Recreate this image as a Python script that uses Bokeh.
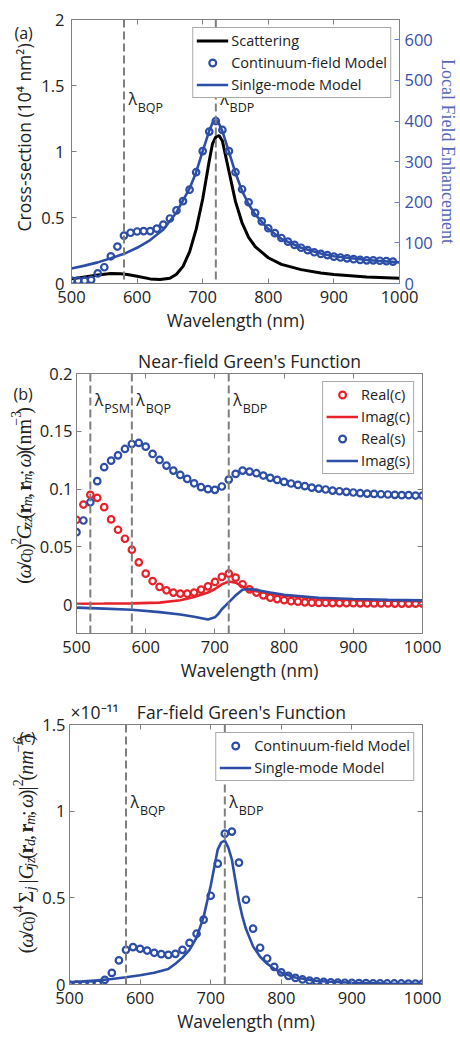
import math
from bokeh.plotting import figure
from bokeh.models import (Range1d, LinearAxis, FixedTicker, Span, Label, Legend,
                          LegendItem, CustomJSTickFormatter)
from bokeh.layouts import column, row
from bokeh.embed import file_html
from bokeh.resources import INLINE

# ------------------------------------------------------------------ data
wl_ticks = [500, 600, 700, 800, 900, 1000]
lam_psm = 520
lam_bqp = 580
lam_bdp = 720

# (a) scattering cross-section (1e4 nm^2) and local field enhancement
wl_a_scat = [500, 520, 540, 560, 575, 585, 600, 620, 635, 650, 660, 670, 680, 690, 700, 710,
             715, 720, 725, 730, 740, 750, 760, 770, 780, 800, 820, 850, 880, 900, 950, 1000]
scattering = [0.035, 0.05, 0.065, 0.075, 0.073, 0.068, 0.055, 0.035, 0.03, 0.04, 0.07, 0.13,
              0.24, 0.41, 0.64, 0.93, 1.06, 1.11, 1.12, 1.08, 0.85, 0.62, 0.46, 0.35, 0.28,
              0.195, 0.145, 0.105, 0.08, 0.068, 0.05, 0.04]
wl_a_cont = list(range(500, 1000, 10))
lfe_cont = [7, 7, 7, 9, 25, 40, 67, 91, 118, 125, 128, 129, 129, 135, 145, 160, 180, 203, 231, 274,
            326, 374, 400, 378, 326, 274, 232, 200, 174, 153, 136, 124, 112, 103, 95, 88, 82, 77,
            73, 70, 66, 64, 62, 60, 58, 57, 57, 56, 55, 54]
wl_a_single = [500, 520, 540, 560, 580, 600, 620, 640, 660, 680, 690, 700, 710, 715, 720, 725, 730,
               740, 750, 760, 770, 780, 800, 820, 850, 880, 900, 950, 1000]
lfe_single = [37, 44, 52, 62, 73, 88, 107, 133, 175, 234, 274, 326, 376, 395, 402, 393, 375, 324,
              272, 228, 195, 170, 134, 110, 88, 74, 67, 58, 52]

# (b) near-field Green's function
wl_b = list(range(500, 1001, 10))
real_c = [0.0734, 0.0866, 0.095, 0.0924, 0.0843, 0.0737, 0.0648, 0.057, 0.0475, 0.0366,
          0.0268, 0.0204, 0.0153, 0.0124, 0.0104, 0.0095, 0.0095, 0.0104, 0.013, 0.0158,
          0.0196, 0.024, 0.0268, 0.0233, 0.0176, 0.0132, 0.0104, 0.008, 0.006, 0.0048,
          0.0038, 0.003, 0.0025, 0.002, 0.0017, 0.0015, 0.0014, 0.0013, 0.0013, 0.0012,
          0.0012, 0.0011, 0.0011, 0.001, 0.001, 0.001, 0.0009, 0.0009, 0.0009, 0.0009, 0.0009]
real_s = [0.0627, 0.0728, 0.0886, 0.1068, 0.1189, 0.1246, 0.1292, 0.1347, 0.139, 0.1399,
          0.1367, 0.1304, 0.1252, 0.1203, 0.116, 0.1122, 0.1088, 0.105, 0.1016, 0.0999,
          0.0993, 0.1022, 0.1082, 0.1131, 0.116, 0.1151, 0.1137, 0.1117, 0.1097, 0.1079,
          0.1062, 0.1048, 0.1036, 0.1025, 0.1013, 0.1004, 0.0996, 0.0987, 0.0981, 0.0976,
          0.097, 0.0964, 0.0961, 0.0958, 0.0955, 0.0953, 0.095, 0.0947, 0.0947, 0.0944, 0.0944]
wl_b_line = [500, 540, 580, 620, 650, 670, 690, 700, 705, 710, 720, 730, 740, 750, 760, 780, 800,
             850, 900, 950, 1000]
imag_c = [0.0008, 0.0009, 0.0011, 0.0017, 0.0038, 0.0065, 0.0105, 0.0135, 0.0155, 0.0175, 0.02,
          0.019, 0.0155, 0.0125, 0.0115, 0.0095, 0.0077, 0.0052, 0.004, 0.0033, 0.0029]
imag_s = [-0.0026, -0.0035, -0.0045, -0.0065, -0.0085, -0.0105, -0.0128, -0.011, -0.008, -0.004,
          0.002, 0.008, 0.0128, 0.0135, 0.0127, 0.0105, 0.0085, 0.006, 0.0048, 0.0041, 0.0037]

# (c) far-field Green's function (units of 1e-11 nm^-6)
wl_c = list(range(500, 1001, 10))
far_cont = [0.0, 0.0, 0.0, 0.0, 0.004, 0.027, 0.067, 0.139, 0.2, 0.216,
            0.206, 0.196, 0.183, 0.175, 0.171, 0.177, 0.2, 0.24, 0.293, 0.374,
            0.512, 0.697, 0.87, 0.882, 0.703, 0.489, 0.322, 0.212, 0.15, 0.102,
            0.07, 0.05, 0.038, 0.029, 0.022, 0.018, 0.015, 0.013, 0.011, 0.01,
            0.009, 0.008, 0.008, 0.007, 0.007, 0.006, 0.006, 0.006, 0.005, 0.005, 0.005]
wl_c_line = [500, 520, 540, 560, 580, 600, 620, 640, 650, 660, 670, 680, 690, 700, 710, 715, 720,
             725, 730, 735, 740, 745, 750, 760, 770, 780, 790, 800, 820, 850, 900, 950, 1000]
far_single = [0.013, 0.018, 0.024, 0.032, 0.042, 0.053, 0.068, 0.09, 0.12, 0.155,
              0.2, 0.27, 0.39, 0.57, 0.78, 0.82, 0.83, 0.79, 0.72, 0.6,
              0.48, 0.39, 0.32, 0.22, 0.16, 0.12, 0.09, 0.068, 0.04, 0.02,
              0.01, 0.006, 0.004]

# ------------------------------------------------------------------ style
W = 460
BLUE = "#2d4ea6"
RED = "#e8222a"
DASH = "#7f7f7f"
AXC = "#808080"
TXT = "#222222"
RAX = "#7080c8"
RTXT = "#3a4fa8"
RLAB = "#5567bb"
SANS = "Open Sans"
SERIF = "Liberation Serif"


def fmt():
    return CustomJSTickFormatter(code="return String(Math.round(tick*10000)/10000);")


class Geo:
    """Frame geometry of a panel in page pixels, used to anchor in-frame labels."""
    def __init__(self, fig_top, height, strip, l, r, t, b, xr, yr):
        self.fig_top, self.height, self.strip = fig_top, height, strip
        self.l, self.r, self.t, self.b = l, r, t, b
        self.xr, self.yr = xr, yr

    def x_of(self, px):
        return self.xr[0] + (px - self.l) / (self.r - self.l) * (self.xr[1] - self.xr[0])

    def y_of(self, py):
        return self.yr[0] + (self.b - py) / (self.b - self.t) * (self.yr[1] - self.yr[0])

    def px_of(self, x):
        return self.l + (x - self.xr[0]) / (self.xr[1] - self.xr[0]) * (self.r - self.l)


def style_axis(ax, ticks, labels=True, color=AXC, lcolor=TXT, standoff=7):
    ax.ticker = FixedTicker(ticks=ticks)
    ax.major_tick_in = 5
    ax.major_tick_out = 0
    ax.minor_tick_in = 0
    ax.minor_tick_out = 0
    ax.axis_line_color = color
    ax.major_tick_line_color = color
    ax.major_label_text_font = SANS
    if labels:
        ax.major_label_text_color = lcolor
        ax.major_label_text_font_size = "16.5px"
        ax.major_label_standoff = standoff
    else:
        ax.major_label_text_color = None
        ax.major_label_text_font_size = "1px"
        ax.major_label_standoff = 0


def make_main(g, yticks, ystandoff, right_mirror=True):
    width = W - g.strip
    left = g.l - g.strip
    right = W - g.r
    top = g.t - g.fig_top
    bottom = g.height - top - (g.b - g.t)
    p = figure(width=width, height=g.height, x_range=Range1d(*g.xr), y_range=Range1d(*g.yr),
               output_backend="svg", toolbar_location=None,
               min_border_left=left, min_border_right=right,
               min_border_top=top, min_border_bottom=bottom)
    p.grid.visible = False
    p.outline_line_color = AXC
    style_axis(p.xaxis[0], wl_ticks)
    p.xaxis[0].axis_label = "Wavelength (nm)"
    p.xaxis[0].axis_label_text_font = SANS
    p.xaxis[0].axis_label_text_font_size = "17.5px"
    p.xaxis[0].axis_label_text_font_style = "normal"
    p.xaxis[0].axis_label_text_color = TXT
    p.xaxis[0].axis_label_standoff = 2
    style_axis(p.yaxis[0], yticks, standoff=ystandoff)
    p.yaxis[0].formatter = fmt()
    top_ax = LinearAxis()
    style_axis(top_ax, wl_ticks, labels=False)
    p.add_layout(top_ax, "above")
    if right_mirror:
        r_ax = LinearAxis()
        style_axis(r_ax, yticks, labels=False)
        p.add_layout(r_ax, "right")
    return p


def make_strip(g):
    s = figure(width=g.strip, height=g.height, x_range=Range1d(0, g.strip),
               y_range=Range1d(g.height, 0), output_backend="svg", toolbar_location=None,
               x_axis_location=None, y_axis_location=None,
               min_border_left=0, min_border_right=0, min_border_top=0, min_border_bottom=0)
    s.grid.visible = False
    s.outline_line_color = None
    return s


def slabel(s, g, px, py, text, size, font=SANS, color=TXT, align="left",
           baseline="middle", angle=0.0, style="normal"):
    s.add_layout(Label(x=px, y=py - g.fig_top, text=text, text_font=font,
                       text_font_size=f"{size}px", text_color=color, text_align=align,
                       text_baseline=baseline, angle=angle, text_font_style=style))


def flabel(p, g, px, py, text, size):
    p.add_layout(Label(x=g.x_of(px), y=g.y_of(py), text=text, text_font=SANS,
                       text_font_size=f"{size}px", text_color=TXT, text_align="left",
                       text_baseline="middle"))


def lambda_label(p, g, lam, py, sub):
    x0 = g.px_of(lam)
    flabel(p, g, x0 + 4.5, py, "λ", 16)
    flabel(p, g, x0 + 14, py + 9, sub, 12.5)


EM = {'(': .333, ')': .333, 'ω': .69, '/': .278, 'c': .444, '0': .5, '2': .5, '3': .5,
      '4': .5, '6': .5, 'G': .722, 'z': .389, 'r': .444, 'm': .75, ',': .25, ';': .278,
      'n': .5, '−': .564, 'Σ': .75, 'j': .278, 'd': .5, '|': .25, ' ': .2}
N, SUB, SUP = (1.0, 0.0), (0.7, 0.2), (0.7, -0.38)


def tex_ylabel(s, g, base_px, start_py, pieces, S, stretch, color=TXT):
    y = start_py - g.fig_top
    for piece in pieces:
        txt, kind = piece[0], piece[1]
        style = piece[2] if len(piece) > 2 else "normal"
        scale, shift = kind
        size = S * scale
        if txt.strip():
            s.add_layout(Label(x=base_px + shift * S, y=y, text=txt,
                               angle=math.pi / 2, text_align="left", text_baseline="alphabetic",
                               text_font=SERIF, text_font_style=style,
                               text_font_size=f"{size:.1f}px", text_color=color))
        y -= sum(EM.get(c, .5) for c in txt) * size * stretch


def vlines(p, lams):
    for lam in lams:
        p.add_layout(Span(location=lam, dimension="height", line_color=DASH,
                          line_dash="8 4", line_width=2))


def legend(p, items):
    leg = Legend(items=items, location="top_right", margin=8, padding=3, spacing=3,
                 glyph_width=32, glyph_height=17, label_height=17, label_standoff=3,
                 label_text_font=SANS, label_text_font_size="14.5px", label_text_color=TXT,
                 border_line_color="#555555", border_line_width=1,
                 background_fill_color="white", background_fill_alpha=1)
    p.add_layout(leg)


def set_title(p, text, align, offset):
    p.title.text = text
    p.title.align = align
    p.title.offset = offset
    p.title.standoff = 1
    p.title.text_font = SANS
    p.title.text_font_size = "17.5px"
    p.title.text_font_style = "normal"
    p.title.text_color = TXT


# ------------------------------------------------------------------ panel (a)
ga = Geo(0, 338, 38, 70, 404, 19, 283, (500, 1000), (0, 2))
pa = make_main(ga, [0, 0.5, 1, 1.5, 2], 7, right_mirror=False)
pa.extra_y_ranges = {"lfe": Range1d(0, 650)}
rax = LinearAxis(y_range_name="lfe")
style_axis(rax, [0, 100, 200, 300, 400, 500, 600], color=RAX, lcolor=RTXT, standoff=5)
rax.axis_label = "Local Field Enhancement"
rax.axis_label_text_font = SERIF
rax.axis_label_text_font_size = "18px"
rax.axis_label_text_font_style = "normal"
rax.axis_label_text_color = RLAB
rax.axis_label_standoff = 2
pa.add_layout(rax, "right")

ra1 = pa.line(wl_a_scat, scattering, line_color="black", line_width=3)
ra3 = pa.line(wl_a_single, lfe_single, line_color=BLUE, line_width=2.6, y_range_name="lfe")
ra2 = pa.scatter(wl_a_cont, lfe_cont, marker="circle", size=6.5, line_width=2.2,
                 line_color=BLUE, fill_color=None, y_range_name="lfe")
vlines(pa, [lam_bqp, lam_bdp])
legend(pa, [LegendItem(label="Scattering", renderers=[ra1]),
            LegendItem(label="Continuum-field Model", renderers=[ra2]),
            LegendItem(label="Sinlge-mode Model", renderers=[ra3])])
lambda_label(pa, ga, lam_bqp, 98, "BQP")
lambda_label(pa, ga, lam_bdp, 98, "BDP")
sa = make_strip(ga)
slabel(sa, ga, 14, 17, "(a)", 16)
slabel(sa, ga, 23.5, 151, "Cross-section (10⁴ nm²)", 17.5, align="center", angle=math.pi / 2)

# ------------------------------------------------------------------ panel (b)
gb = Geo(338, 350, 36, 74, 422, 373, 633, (500, 1000), (-0.025, 0.2))
pb = make_main(gb, [0, 0.05, 0.1, 0.15, 0.2], 4)
rb1 = pb.scatter(wl_b, real_c, marker="circle", size=6.5, line_width=2.2,
                 line_color=RED, fill_color=None)
rb2 = pb.line(wl_b_line, imag_c, line_color=RED, line_width=2.6)
rb3 = pb.scatter(wl_b, real_s, marker="circle", size=6.5, line_width=2.2,
                 line_color=BLUE, fill_color=None)
rb4 = pb.line(wl_b_line, imag_s, line_color=BLUE, line_width=2.6)
vlines(pb, [lam_psm, lam_bqp, lam_bdp])
legend(pb, [LegendItem(label="Real(c)", renderers=[rb1]),
            LegendItem(label="Imag(c)", renderers=[rb2]),
            LegendItem(label="Real(s)", renderers=[rb3]),
            LegendItem(label="Imag(s)", renderers=[rb4])])
lambda_label(pb, gb, lam_psm, 399, "PSM")
lambda_label(pb, gb, lam_bqp, 399, "BQP")
lambda_label(pb, gb, lam_bdp, 399, "BDP")
set_title(pb, "Near-field Green's Function", "center", 0)
sb = make_strip(gb)
slabel(sb, gb, 13, 366, "(b)", 16)
tex_ylabel(sb, gb, 23, 621, [
    ("(", N), ("ω", N, "italic"), ("/", N), ("c", N, "italic"), ("0", SUB), (")", N),
    ("2", SUP), ("G", N, "italic"), ("zz", SUB, "italic"), ("(", N), ("r", N, "bold"),
    ("m", SUB, "italic"), (",", N), (" ", N), ("r", N, "bold"), ("m", SUB, "italic"),
    (";", N), (" ", N), ("ω", N, "italic"), (")", N), ("(nm", N), ("−3", SUP), (")", N)],
    20, 1.08)

# ------------------------------------------------------------------ panel (c)
gc = Geo(688, 350, 39, 67, 422, 724, 984, (500, 1000), (0, 1.5))
pc = make_main(gc, [0, 0.5, 1, 1.5], 4)
rc1 = pc.scatter(wl_c, far_cont, marker="circle", size=6.5, line_width=2.2,
                 line_color=BLUE, fill_color=None)
rc2 = pc.line(wl_c_line, far_single, line_color=BLUE, line_width=2.6)
vlines(pc, [lam_bqp, lam_bdp])
legend(pc, [LegendItem(label="Continuum-field Model", renderers=[rc1]),
            LegendItem(label="Single-mode Model", renderers=[rc2])])
lambda_label(pc, gc, lam_bqp, 801, "BQP")
lambda_label(pc, gc, lam_bdp, 801, "BDP")
set_title(pc, "×10⁻¹¹" + "\u00a0" * 4 + "Far-field Green's Function", "left", 1)
sc = make_strip(gc)
slabel(sc, gc, 19, 703, "(c)", 15)
tex_ylabel(sc, gc, 25.5, 996, [
    ("(", N), ("ω", N, "italic"), ("/", N), ("c", N, "italic"), ("0", SUB), (")", N),
    ("4", SUP), (" ", N), ("Σ", N), ("j", SUB, "italic"), (" ", N), ("|", N),
    ("G", N, "italic"), ("jz", SUB, "italic"), ("(", N), ("r", N, "bold"), ("d", SUB, "italic"),
    (",", N), (" ", N), ("r", N, "bold"), ("m", SUB, "italic"), (";", N), (" ", N),
    ("ω", N, "italic"), (")", N), ("|", N), ("2", SUP), ("(", N), ("nm", N, "italic"),
    ("−6", SUP, "italic"), (")", N)], 20, 1.14)

layout = column(row(sa, pa, spacing=0), row(sb, pb, spacing=0), row(sc, pc, spacing=0),
                spacing=0)
open("out.html", "w").write(file_html(layout, INLINE))
